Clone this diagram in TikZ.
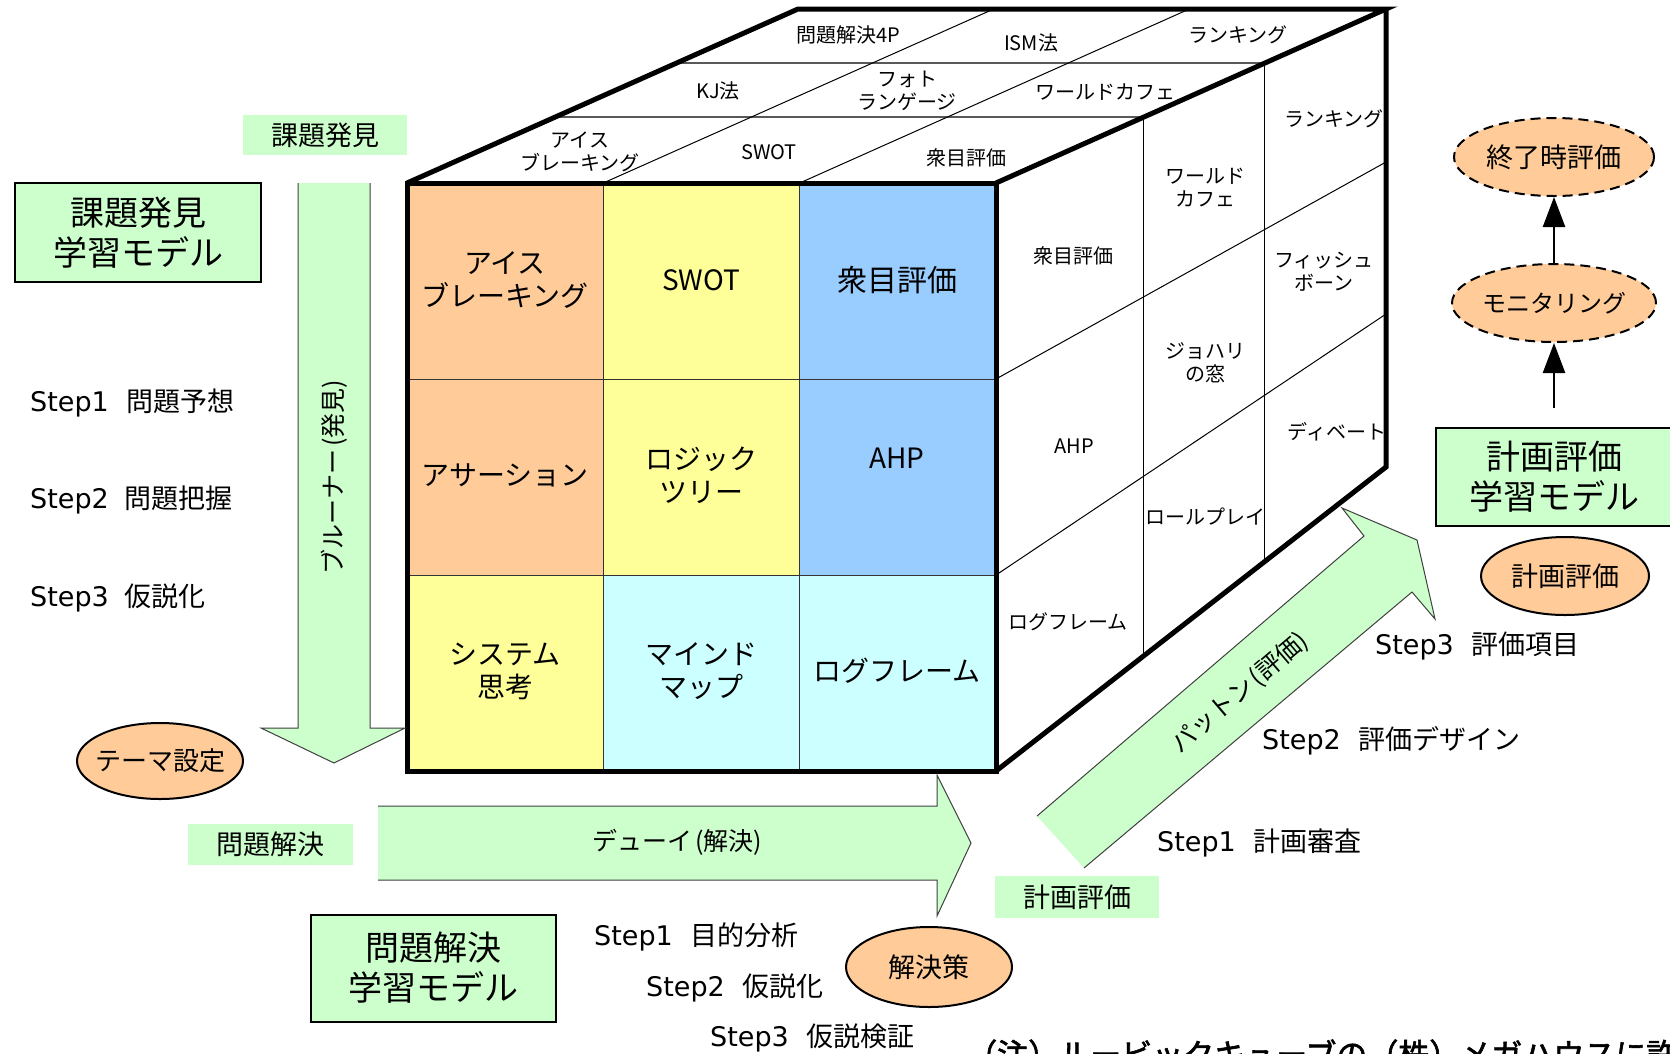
\documentclass[tikz,border=0pt]{standalone}
\usepackage{fontspec}
\setmainfont{Noto Sans CJK JP}
\newfontfamily\lat{DejaVu Sans}
\newfontfamily\notefont{Noto Sans CJK JP}[FakeBold=2]
\usetikzlibrary{shapes.geometric,arrows.meta}
\definecolor{lgreen}{HTML}{CCFFCC}
\definecolor{peach}{HTML}{FFCC99}
\definecolor{cyel}{HTML}{FFFF99}
\definecolor{cblue}{HTML}{99CCFF}
\definecolor{ccyan}{HTML}{CCFFFF}
\begin{document}
\begin{tikzpicture}[x=1pt,y=-1pt,
  cubesmall/.style={font=\fontsize{20}{23}\selectfont, align=center, inner sep=0pt},
  cellfont/.style={font=\fontsize{28}{33}\selectfont, align=center, inner sep=0pt},
  steptxt/.style={font=\fontsize{27}{32}\selectfont, anchor=west, inner sep=0pt},
  glabel/.style={fill=lgreen, font=\fontsize{27}{32}\selectfont, inner sep=0pt},
  modelbox/.style={draw=black, line width=2pt, fill=lgreen, font=\fontsize{34}{40}\selectfont, align=center, inner sep=0pt},
  ovalshape/.style={ellipse, draw=black, line width=2pt, fill=peach, inner sep=0pt},
  dashedoval/.style={ovalshape, dash pattern=on 10pt off 6pt},
  ovaltxt/.style={font=\fontsize{27}{32}\selectfont, inner sep=0pt},
  arrowtxt/.style={font=\fontsize{25}{30}\selectfont, inner sep=0pt},
  arrowedge/.style={draw=black!75, line width=1pt, line join=miter},
  gridline/.style={draw=black!80, line width=1pt},
  topline/.style={draw=black!65, line width=2pt},
  thinline/.style={draw=black, line width=1pt},
  cubeedge/.style={draw=black, line width=5pt, line join=miter},
  uparrow/.style={draw=black, line width=2.5pt, -{Triangle[length=30pt,width=22pt]}}
]
\useasboundingbox (0,0) rectangle (1670,1053);
\clip (0,0) rectangle (1670,1053);
\fill[white] (0,0) rectangle (1670,1053);

% ---------- front face cells ----------
\fill[peach] (407,183) rectangle (603.3,379);
\fill[cyel]  (603.3,183) rectangle (799.7,379);
\fill[cblue] (799.7,183) rectangle (996,379);
\fill[peach] (407,379) rectangle (603.3,575);
\fill[cyel]  (603.3,379) rectangle (799.7,575);
\fill[cblue] (799.7,379) rectangle (996,575);
\fill[cyel]  (407,575) rectangle (603.3,771);
\fill[ccyan] (603.3,575) rectangle (799.7,771);
\fill[ccyan] (799.7,575) rectangle (996,771);
\draw[gridline] (603.3,183) -- (603.3,771);
\draw[gridline] (799.7,183) -- (799.7,771);
\draw[gridline] (407,379) -- (996,379);
\draw[gridline] (407,575) -- (996,575);

% ---------- top face grid ----------
\draw[topline] (676.7,63) -- (1264.3,63);
\draw[topline] (555.3,117) -- (1143.6,117);
\draw[thinline] (603.3,183) -- (993.7,9);
\draw[thinline] (799.7,183) -- (1189.3,9);

% ---------- right face grid ----------
\draw[thinline] (1143.6,117) -- (1143.6,656);
\draw[thinline] (1264.3,63) -- (1264.3,562);
\draw[thinline] (996,379) -- (1386,162);
\draw[thinline] (996,575) -- (1386,314);

% ---------- cube outline ----------
\draw[cubeedge] (407,183) rectangle (996,771);
\draw[cubeedge] (407,183) -- (798,9) -- (1386,9) -- (996,183);
\draw[cubeedge] (1386,9) -- (1386,467) -- (996,771);

% ---------- front cell texts ----------
\node[cellfont] (f11) at (505,280) {アイス\\ブレーキング};
\node[cellfont] (f12) at (701,280) {SWOT};
\node[cellfont, font=\fontsize{30}{34}\selectfont] (f13) at (897,280) {衆目評価};
\node[cellfont] (f21) at (505,475) {アサーション};
\node[cellfont] (f22) at (701,475) {ロジック\\ツリー};
\node[cellfont] (f23) at (897,458) {AHP};
\node[cellfont] (f31) at (505,671) {システム\\思考};
\node[cellfont] (f32) at (701,671) {マインド\\マップ};
\node[cellfont] (f33) at (897,671) {ログフレーム};

% ---------- top face texts ----------
\node[cubesmall] (t11) at (848,35) {問題解決4P};
\node[cubesmall] (t12) at (1031,43) {ISM法};
\node[cubesmall] (t13) at (1238,35) {ランキング};
\node[cubesmall] (t21) at (718,91) {KJ法};
\node[cubesmall] (t22) at (907,91) {フォト\\ランゲージ};
\node[cubesmall] (t23) at (1105,92) {ワールドカフェ};
\node[cubesmall] (t31) at (580,152) {アイス\\ブレーキング};
\node[cubesmall] (t32) at (769,152) {SWOT};
\node[cubesmall] (t33) at (966,158) {衆目評価};

% ---------- right face texts ----------
\node[cubesmall] (r11) at (1073,256) {衆目評価};
\node[cubesmall] (r21) at (1074,446) {AHP};
\node[cubesmall] (r31) at (1068,622) {ログフレーム};
\node[cubesmall] (r12) at (1205,188) {ワールド\\カフェ};
\node[cubesmall] (r22) at (1205,363) {ジョハリ\\の窓};
\node[cubesmall] (r32) at (1205,517) {ロールプレイ};
\node[cubesmall] (r13) at (1334,119) {ランキング};
\node[cubesmall] (r23) at (1324,272) {フィッシュ\\ボーン};
\node[cubesmall] (r33) at (1337,432) {ディベート};

% ---------- down arrow (Bruner) ----------
\fill[lgreen] (298,183) -- (370,183) -- (370,728) -- (405,728) -- (334,763) -- (261,728) -- (298,728) -- cycle;
\draw[arrowedge] (370,183) -- (370,728) -- (405,728) -- (334,763) -- (261,728) -- (298,728) -- (298,183);
\node[arrowtxt, rotate=90] (bruner) at (334,477) {ブルーナー\kern3pt(発見)};

% ---------- right arrow (Dewey) ----------
\fill[lgreen] (378,806) -- (937,806) -- (937,775) -- (971,843) -- (937,916) -- (937,880) -- (378,880) -- cycle;
\draw[arrowedge] (378,806) -- (937,806) -- (937,775) -- (971,843) -- (937,916) -- (937,880) -- (378,880);
\node[arrowtxt] (dewey) at (677,842) {デューイ\kern3pt(解決)};

% ---------- diagonal arrow (Patton) ----------
\fill[lgreen] (1037,816) -- (1364,536) -- (1342,508) -- (1417,540) -- (1435,619) -- (1412,592) -- (1084,868) -- cycle;
\draw[arrowedge] (1037,816) -- (1364,536) -- (1342,508) -- (1417,540) -- (1435,619) -- (1412,592) -- (1084,868);
\node[arrowtxt, rotate=40.4] (patton) at (1240,693) {パットン\kern3pt(評価)};

% ---------- green labels ----------
\node[glabel, minimum width=164pt, minimum height=40pt] (lab1) at (325,135) {課題発見};
\node[glabel, minimum width=165pt, minimum height=41pt] (lab2) at (270.5,844.5) {問題解決};
\node[glabel, minimum width=164pt, minimum height=42pt] (lab3) at (1077,897) {計画評価};

% ---------- model boxes ----------
\node[modelbox, minimum width=246pt, minimum height=99pt] (mb1) at (138,232.5) {課題発見\\学習モデル};
\node[modelbox, minimum width=245pt, minimum height=107pt] (mb2) at (433.5,968) {問題解決\\学習モデル};
\node[modelbox, minimum width=236pt, minimum height=98pt] (mb3) at (1554,477) {計画評価\\学習モデル};

% ---------- ellipses ----------
\node[ovalshape, minimum width=166pt, minimum height=76pt] (theme) at (160,761) {};
\node[ovaltxt, font=\fontsize{26}{30}\selectfont] (themetxt) at (theme.center) {テーマ設定};
\node[ovalshape, minimum width=166pt, minimum height=80pt] (sol) at (929,967) {};
\node[ovaltxt] (soltxt) at (sol.center) {解決策};
\node[ovalshape, minimum width=168pt, minimum height=78pt] (plan) at (1565,576) {};
\node[ovaltxt] (plantxt) at (plan.center) {計画評価};
\node[dashedoval, minimum width=204pt, minimum height=78pt] (moni) at (1554,303) {};
\node[ovaltxt, font=\fontsize{24}{28}\selectfont] (monitxt) at (moni.center) {モニタリング};
\node[dashedoval, minimum width=200pt, minimum height=78pt] (fin) at (1554,157) {};
\node[ovaltxt] (fintxt) at (fin.center) {終了時評価};

\coordinate (kstart) at (1554,408);
\draw[uparrow] (kstart) -- (moni.south);
\draw[uparrow] (moni.north) -- (fin.south);

% ---------- step texts ----------
\node[steptxt] (ls1) at (30,403) {{\lat Step1}\hspace{18pt}問題予想};
\node[steptxt] (ls2) at (30,500) {{\lat Step2}\hspace{16pt}問題把握};
\node[steptxt] (ls3) at (30,598) {{\lat Step3}\hspace{16pt}仮説化};

\node[steptxt] (bs1) at (594,937) {{\lat Step1}\hspace{18pt}目的分析};
\node[steptxt] (bs2) at (646,988) {{\lat Step2}\hspace{18pt}仮説化};
\node[steptxt] (bs3) at (710,1038) {{\lat Step3}\hspace{18pt}仮説検証};

\node[steptxt] (rs1) at (1157,843) {{\lat Step1}\hspace{18pt}計画審査};
\node[steptxt] (rs2) at (1262,741) {{\lat Step2}\hspace{18pt}評価デザイン};
\node[steptxt] (rs3) at (1375,646) {{\lat Step3}\hspace{18pt}評価項目};

% ---------- note (cut off at bottom) ----------
\node[anchor=base west, inner sep=0pt, font=\notefont\fontsize{31}{36}\selectfont] (note) at (966,1066) {（注）ルービックキューブの（株）メガハウスに許可申請};
\end{tikzpicture}
\end{document}
